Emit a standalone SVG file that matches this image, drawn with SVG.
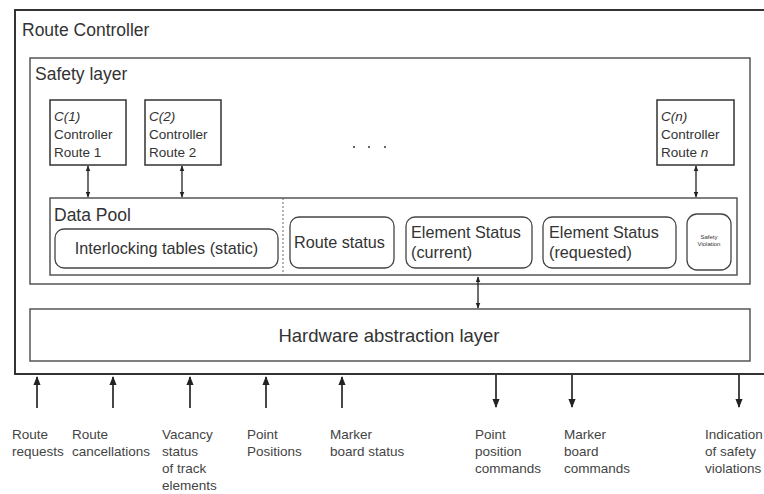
<svg xmlns="http://www.w3.org/2000/svg" width="764" height="494" viewBox="0 0 764 494">
  <style>
    text { font-family: "Liberation Sans", Arial, sans-serif; fill: #333; }
    .frame { fill: none; stroke: #555; stroke-width: 1.5; }
    .outer { fill: none; stroke: #333; stroke-width: 2; }
    .store { fill: #fff; stroke: #444; stroke-width: 1.3; }
    .ctl { fill: #fff; stroke: #333; stroke-width: 1.5; }
    .wire { stroke: #222; stroke-width: 1.3; fill: none; }
    .io { stroke: #333; stroke-width: 1.8; fill: none; }
    .lbl { font-size: 13.5px; fill: #444; }
    .title { font-size: 17.5px; }
    .t16 { font-size: 16.2px; }
    .t13 { font-size: 13.5px; }
  </style>
  <defs>
    <marker id="ah" viewBox="0 0 10 10" refX="9" refY="5" markerWidth="6" markerHeight="6" markerUnits="userSpaceOnUse" orient="auto-start-reverse">
      <path d="M0,1 L10,5 L0,9 Z" fill="#222"/>
    </marker>
    <marker id="big" viewBox="0 0 10 10" refX="9" refY="5" markerWidth="9" markerHeight="9" markerUnits="userSpaceOnUse" orient="auto">
      <path d="M0,1 L10,5 L0,9 Z" fill="#222"/>
    </marker>
  </defs>

  <rect width="764" height="494" fill="#fff"/>

  <!-- Route controller frame -->
  <g id="route-controller">
    <rect class="outer" x="15" y="10" width="760" height="364"/>
    <text class="title" x="22" y="36">Route Controller</text>
  </g>

  <!-- Safety layer frame -->
  <g id="safety-layer">
    <rect class="frame" x="30" y="58" width="720" height="226"/>
    <text class="title" x="35" y="80">Safety layer</text>
  </g>

  <g id="controller-1">
    <rect class="ctl" x="50" y="100" width="76" height="65"/>
    <text class="t13" x="54" y="121" font-style="italic">C(1)</text>
    <text class="t13" x="54" y="139">Controller</text>
    <text class="t13" x="54" y="157">Route 1</text>
  </g>
  <g id="controller-2">
    <rect class="ctl" x="145" y="100" width="76" height="65"/>
    <text class="t13" x="149" y="121" font-style="italic">C(2)</text>
    <text class="t13" x="149" y="139">Controller</text>
    <text class="t13" x="149" y="157">Route 2</text>
  </g>
  <g id="ellipsis">
    <circle cx="354" cy="147" r="1" fill="#333"/>
    <circle cx="369" cy="147" r="1" fill="#333"/>
    <circle cx="385" cy="147" r="1" fill="#333"/>
  </g>
  <g id="controller-n">
    <rect class="ctl" x="657" y="100" width="77" height="65"/>
    <text class="t13" x="661" y="121" font-style="italic">C(n)</text>
    <text class="t13" x="661" y="139">Controller</text>
    <text class="t13" x="661" y="157">Route <tspan font-style="italic">n</tspan></text>
  </g>

  <!-- Data pool -->
  <g id="data-pool">
    <rect class="frame" x="50" y="198" width="687" height="77" stroke-width="1.3"/>
    <line x1="283" y1="198" x2="283" y2="275" stroke="#666" stroke-width="1" stroke-dasharray="2,2"/>
    <text class="title" x="54" y="221">Data Pool</text>
  </g>
  <g id="interlocking-tables">
    <rect class="store" x="55" y="229" width="223" height="39" rx="9"/>
    <text class="t16" x="166.5" y="254" text-anchor="middle">Interlocking tables (static)</text>
  </g>
  <g id="route-status">
    <rect class="store" x="290" y="217" width="104" height="51" rx="9"/>
    <text class="t16" x="294" y="248">Route status</text>
  </g>
  <g id="element-status-current">
    <rect class="store" x="406" y="217" width="126" height="51" rx="9"/>
    <text class="t16" x="411" y="238">Element Status</text>
    <text class="t16" x="411" y="258">(current)</text>
  </g>
  <g id="element-status-requested">
    <rect class="store" x="543" y="217" width="133" height="51" rx="9"/>
    <text class="t16" x="549" y="238">Element Status</text>
    <text class="t16" x="549" y="258">(requested)</text>
  </g>
  <g id="safety-violation">
    <rect class="store" x="687" y="214" width="44" height="56" rx="10"/>
    <text x="709" y="239" text-anchor="middle" style="font-size:6px">Safety</text>
    <text x="709" y="246" text-anchor="middle" style="font-size:6px">Violation</text>
  </g>

  <!-- Hardware abstraction layer -->
  <g id="hal">
    <rect class="frame" x="30" y="309" width="720" height="52"/>
    <text x="389" y="342" text-anchor="middle" style="font-size:18.5px">Hardware abstraction layer</text>
  </g>

  <!-- Connectors -->
  <g id="connectors">
    <line class="wire" x1="88" y1="166" x2="88" y2="197" marker-start="url(#ah)" marker-end="url(#ah)"/>
    <line class="wire" x1="182" y1="166" x2="182" y2="197" marker-start="url(#ah)" marker-end="url(#ah)"/>
    <line class="wire" x1="696" y1="166" x2="696" y2="197" marker-start="url(#ah)" marker-end="url(#ah)"/>
    <line class="wire" x1="478" y1="277" x2="478" y2="308" marker-start="url(#ah)" marker-end="url(#ah)"/>

    <line class="io" x1="37" y1="408" x2="37" y2="377" marker-end="url(#big)"/>
    <line class="io" x1="113" y1="408" x2="113" y2="377" marker-end="url(#big)"/>
    <line class="io" x1="190" y1="408" x2="190" y2="377" marker-end="url(#big)"/>
    <line class="io" x1="266" y1="408" x2="266" y2="377" marker-end="url(#big)"/>
    <line class="io" x1="342" y1="408" x2="342" y2="377" marker-end="url(#big)"/>

    <line class="io" x1="496" y1="375" x2="496" y2="407" marker-end="url(#big)"/>
    <line class="io" x1="572" y1="375" x2="572" y2="407" marker-end="url(#big)"/>
    <line class="io" x1="739" y1="375" x2="739" y2="407" marker-end="url(#big)"/>
  </g>

  <!-- Signal labels -->
  <g id="inputs">
    <text class="lbl" x="12" y="439">Route</text>
    <text class="lbl" x="12" y="456">requests</text>
    <text class="lbl" x="72" y="439">Route</text>
    <text class="lbl" x="72" y="456">cancellations</text>
    <text class="lbl" x="162" y="439">Vacancy</text>
    <text class="lbl" x="162" y="456">status</text>
    <text class="lbl" x="162" y="473">of track</text>
    <text class="lbl" x="162" y="490">elements</text>
    <text class="lbl" x="247" y="439">Point</text>
    <text class="lbl" x="247" y="456">Positions</text>
    <text class="lbl" x="330" y="439">Marker</text>
    <text class="lbl" x="330" y="456">board status</text>
  </g>
  <g id="outputs">
    <text class="lbl" x="475" y="439">Point</text>
    <text class="lbl" x="475" y="456">position</text>
    <text class="lbl" x="475" y="473">commands</text>
    <text class="lbl" x="564" y="439">Marker</text>
    <text class="lbl" x="564" y="456">board</text>
    <text class="lbl" x="564" y="473">commands</text>
    <text class="lbl" x="705" y="439">Indication</text>
    <text class="lbl" x="705" y="456">of safety</text>
    <text class="lbl" x="705" y="473">violations</text>
  </g>
</svg>
